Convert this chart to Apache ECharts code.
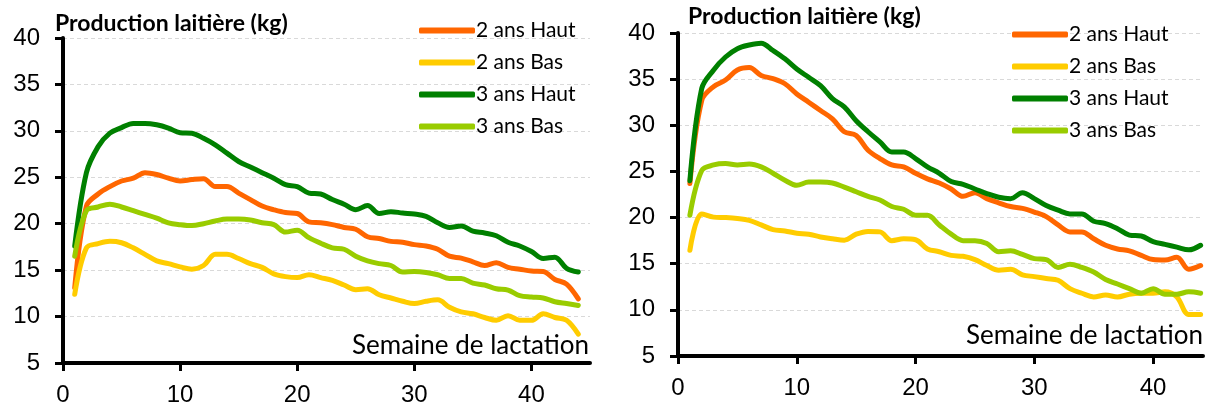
<!DOCTYPE html>
<html>
<head>
<meta charset="utf-8">
<script src="https://cdn.jsdelivr.net/npm/echarts@6/dist/echarts.min.js"></script>
<style>
  html, body { margin: 0; padding: 0; background: #fff; }
  #chart { width: 1210px; height: 410px; }
</style>
</head>
<body>
<div id="chart"></div>
<script>
  // semaines de lactation
  var weeks = [1, 2, 3, 4, 5, 6, 7, 8, 9, 10, 11, 12, 13, 14, 15, 16, 17, 18, 19, 20, 21, 22,
    23, 24, 25, 26, 27, 28, 29, 30, 31, 32, 33, 34, 35, 36, 37, 38, 39, 40, 41, 42, 43, 44];
  var seriesNames = ['2 ans Haut', '2 ans Bas', '3 ans Haut', '3 ans Bas'];
  var xTicks = [0, 10, 20, 30, 40];

  // graphique de gauche
  var haut2L = [13.1, 21.9, 23.2, 24.0, 24.6, 24.9, 25.5, 25.3, 24.9, 24.6, 24.75, 24.85, 24.0, 24.0, 23.3,
    22.6, 21.9, 21.5, 21.2, 21.1, 20.2, 20.1, 19.9, 19.6, 19.4, 18.6, 18.4, 18.1, 18.0, 17.75,
    17.6, 17.25, 16.5, 16.3, 15.9, 15.5, 15.8, 15.3, 15.1, 14.9, 14.85, 14.0, 13.5, 11.9];
  var bas2L = [12.4, 17.4, 17.85, 18.1, 17.95, 17.4, 16.7, 16.0, 15.7, 15.35, 15.1, 15.5, 16.7, 16.7, 16.25,
    15.7, 15.3, 14.6, 14.3, 14.2, 14.5, 14.2, 13.9, 13.4, 12.9, 13.0, 12.35, 12.0, 11.65, 11.4,
    11.65, 11.8, 11.0, 10.5, 10.3, 9.9, 9.6, 10.1, 9.6, 9.6, 10.3, 9.9, 9.6, 8.1];
  var haut3L = [17.6, 25.5, 28.3, 29.75, 30.35, 30.8, 30.8, 30.65, 30.3, 29.8, 29.75, 29.2, 28.5, 27.6, 26.7,
    26.1, 25.5, 24.9, 24.2, 24.0, 23.3, 23.2, 22.6, 22.1, 21.5, 21.95, 21.1, 21.3, 21.15, 21.05,
    20.8, 20.1, 19.6, 19.75, 19.2, 19.0, 18.7, 18.0, 17.6, 17.0, 16.25, 16.4, 15.2, 14.8];
  var bas3L = [16.5, 21.4, 21.8, 22.1, 21.8, 21.4, 21.0, 20.6, 20.1, 19.9, 19.8, 20.0, 20.3, 20.5, 20.5,
    20.4, 20.1, 19.9, 19.1, 19.3, 18.5, 17.9, 17.4, 17.25, 16.5, 16.0, 15.7, 15.5, 14.8, 14.85,
    14.75, 14.5, 14.1, 14.1, 13.6, 13.4, 13.0, 12.85, 12.25, 12.1, 12.0, 11.6, 11.4, 11.2];

  // graphique de droite
  var haut2R = [23.7, 32.7, 34.2, 34.9, 36.0, 36.25, 35.4, 35.05, 34.5, 33.4, 32.5, 31.6, 30.7, 29.3, 28.9,
    27.3, 26.4, 25.7, 25.5, 24.8, 24.2, 23.75, 23.1, 22.3, 22.7, 22.05, 21.6, 21.2, 21.0, 20.6,
    20.1, 19.2, 18.45, 18.45, 17.7, 17.0, 16.6, 16.4, 15.9, 15.45, 15.4, 15.7, 14.4, 14.8];
  var bas2R = [16.45, 20.4, 20.05, 20.0, 19.9, 19.7, 19.2, 18.7, 18.55, 18.3, 18.2, 17.9, 17.7, 17.55, 18.2,
    18.5, 18.45, 17.5, 17.7, 17.6, 16.6, 16.3, 15.9, 15.8, 15.45, 14.8, 14.3, 14.4, 13.8, 13.6,
    13.4, 13.2, 12.3, 11.8, 11.4, 11.6, 11.4, 11.7, 11.8, 11.8, 11.95, 11.4, 9.5, 9.5];
  var haut3R = [24.0, 34.0, 36.0, 37.4, 38.3, 38.7, 38.9, 38.1, 37.2, 36.1, 35.2, 34.3, 32.9, 32.0, 30.5,
    29.3, 28.2, 27.1, 27.1, 26.4, 25.5, 24.8, 23.9, 23.6, 23.1, 22.6, 22.2, 22.05, 22.7, 22.05,
    21.3, 20.8, 20.4, 20.4, 19.6, 19.35, 18.8, 18.1, 18.0, 17.4, 17.1, 16.8, 16.5, 17.0];
  var bas3R = [20.25, 25.1, 25.7, 25.85, 25.7, 25.8, 25.5, 24.8, 24.05, 23.5, 23.85, 23.85, 23.75, 23.3, 22.8,
    22.3, 21.9, 21.2, 20.9, 20.25, 20.25, 19.2, 18.2, 17.5, 17.5, 17.2, 16.3, 16.4, 16.0, 15.55,
    15.45, 14.6, 14.95, 14.6, 14.1, 13.3, 12.8, 12.3, 11.8, 12.3, 11.7, 11.7, 11.95, 11.8];

  var colors = ['#ff6600', '#ffcc00', '#008000', '#99cc00'];

  function pairs(vals) {
    return weeks.map(function (w, i) { return [w, vals[i]]; });
  }

  function xAxisOf(idx, max) {
    return {
      type: 'value', gridIndex: idx, min: 0, max: max, interval: 10,
      splitLine: { show: false },
      axisLine: { show: true, onZero: false, lineStyle: { color: '#000', width: 4 } },
      axisTick: { show: true, customValues: xTicks, length: 8, lineStyle: { color: '#000', width: 3 } },
      axisLabel: { customValues: xTicks, color: '#000', fontSize: 24, fontFamily: 'Liberation Sans', margin: 20 }
    };
  }

  function yAxisOf(idx) {
    return {
      type: 'value', gridIndex: idx, min: 5, max: 40, interval: 5,
      splitLine: { show: true, lineStyle: { color: '#d9d9d9', type: [4, 3], width: 1 } },
      axisLine: { show: true, lineStyle: { color: '#000', width: 4 } },
      axisTick: { show: true, length: 8, lineStyle: { color: '#000', width: 3 } },
      axisLabel: { color: '#000', fontSize: 24, fontFamily: 'Liberation Sans', margin: 23 }
    };
  }

  function lineOf(name, vals, idx, c) {
    return {
      name: name, type: 'line', xAxisIndex: idx, yAxisIndex: idx,
      data: pairs(vals), smooth: 0.35, showSymbol: false, symbol: 'none',
      lineStyle: { color: c, width: 5, cap: 'round', join: 'round' },
      itemStyle: { color: c },
      animation: false
    };
  }

  function legendOf(left, top) {
    return {
      data: seriesNames, orient: 'vertical', left: left, top: top,
      icon: 'roundRect', itemWidth: 56, itemHeight: 6, itemGap: 11,
      textStyle: { color: '#000', fontSize: 21, fontFamily: 'Lato', padding: [0, 0, 0, -4] },
      selectedMode: false
    };
  }

  var titleStyle = { color: '#000', fontSize: 23, fontWeight: 'bold', fontFamily: 'Lato' };
  var nameStyle = { color: '#000', fontSize: 26, fontWeight: 'normal', fontFamily: 'Lato' };

  var myChart = echarts.init(document.getElementById('chart'));
  var option = {
    backgroundColor: '#fff',
    title: [
      { text: 'Production laitière (kg)', left: 55, top: 12, padding: 0, textStyle: titleStyle },
      { text: 'Production laitière (kg)', left: 688, top: 5, padding: 0, textStyle: titleStyle },
      { text: 'Semaine de lactation', right: 621, top: 333, padding: 0, textStyle: nameStyle },
      { text: 'Semaine de lactation', right: 7, top: 323, padding: 0, textStyle: nameStyle }
    ],
    legend: [legendOf(414, 15), legendOf(1007, 19)],
    grid: [
      { left: 63, top: 38, width: 527, height: 325 },
      { left: 678, top: 33, width: 525, height: 323 }
    ],
    xAxis: [xAxisOf(0, 45), xAxisOf(1, 44.2)],
    yAxis: [yAxisOf(0), yAxisOf(1)],
    series: [
      lineOf(seriesNames[0], haut2L, 0, colors[0]),
      lineOf(seriesNames[1], bas2L, 0, colors[1]),
      lineOf(seriesNames[2], haut3L, 0, colors[2]),
      lineOf(seriesNames[3], bas3L, 0, colors[3]),
      lineOf(seriesNames[0], haut2R, 1, colors[0]),
      lineOf(seriesNames[1], bas2R, 1, colors[1]),
      lineOf(seriesNames[2], haut3R, 1, colors[2]),
      lineOf(seriesNames[3], bas3R, 1, colors[3])
    ]
  };
  myChart.setOption(option);
</script>
</body>
</html>
